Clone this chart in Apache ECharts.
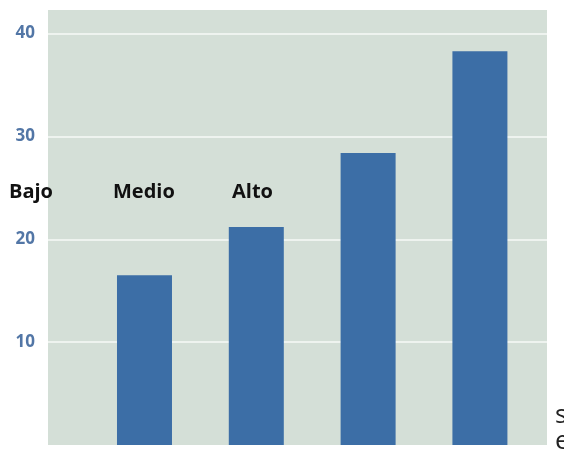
<!DOCTYPE html>
<html>
<head>
<meta charset="utf-8">
<script src="https://cdn.jsdelivr.net/npm/echarts@6/dist/echarts.min.js"></script>
<style>html,body{margin:0;padding:0;background:#fff}#c{width:564px;height:457px}</style>
</head>
<body>
<div id="c"></div>
<script>
var positions = [1, 2, 3, 4];
var values = [16.5, 21.2, 28.4, 38.3];
var yTicks = [10, 20, 30, 40];
var overlayLabels = ['Bajo', 'Medio', 'Alto'];
var sideLetters = ['s', 'e'];

var chart = echarts.init(document.getElementById('c'), null, {renderer: 'canvas'});
var labelX = [9, 113, 232];
var graphics = overlayLabels.map(function (t, i) {
  return {type: 'text', left: labelX[i], top: 182,
    style: {text: t, font: 'bold 20px "Open Sans", sans-serif', fill: '#111'}};
});
graphics.push({type: 'text', left: 555, top: 403, style: {text: sideLetters[0], font: '26px "Open Sans", sans-serif', fill: '#222'}});
graphics.push({type: 'text', left: 555, top: 429, style: {text: sideLetters[1], font: '26px "Open Sans", sans-serif', fill: '#222'}});

chart.setOption({
  animation: false,
  grid: {left: 48, right: 17, top: 10, bottom: 12, show: true, backgroundColor: '#d4dfd7', borderWidth: 0},
  xAxis: {type: 'value', min: 0.137, max: 4.6, show: false},
  yAxis: {
    type: 'value', min: 0, max: 42.3, interval: 10,
    axisLine: {show: false}, axisTick: {show: false},
    axisLabel: {
      showMinLabel: false, showMaxLabel: false, margin: 13,
      color: '#5276a6', fontWeight: 'bold', fontSize: 17, fontFamily: '"Open Sans", sans-serif',
      formatter: function (v) { return yTicks.indexOf(v) >= 0 ? String(v) : ''; }
    },
    splitLine: {show: true, showMinLine: false, showMaxLine: false, lineStyle: {color: '#eef3ef', width: 2}}
  },
  series: [{
    type: 'bar', barWidth: 55,
    data: positions.map(function (p, i) { return [p, values[i]]; }),
    itemStyle: {color: '#3c6ea6'}
  }],
  graphic: graphics
});
</script>
</body>
</html>
